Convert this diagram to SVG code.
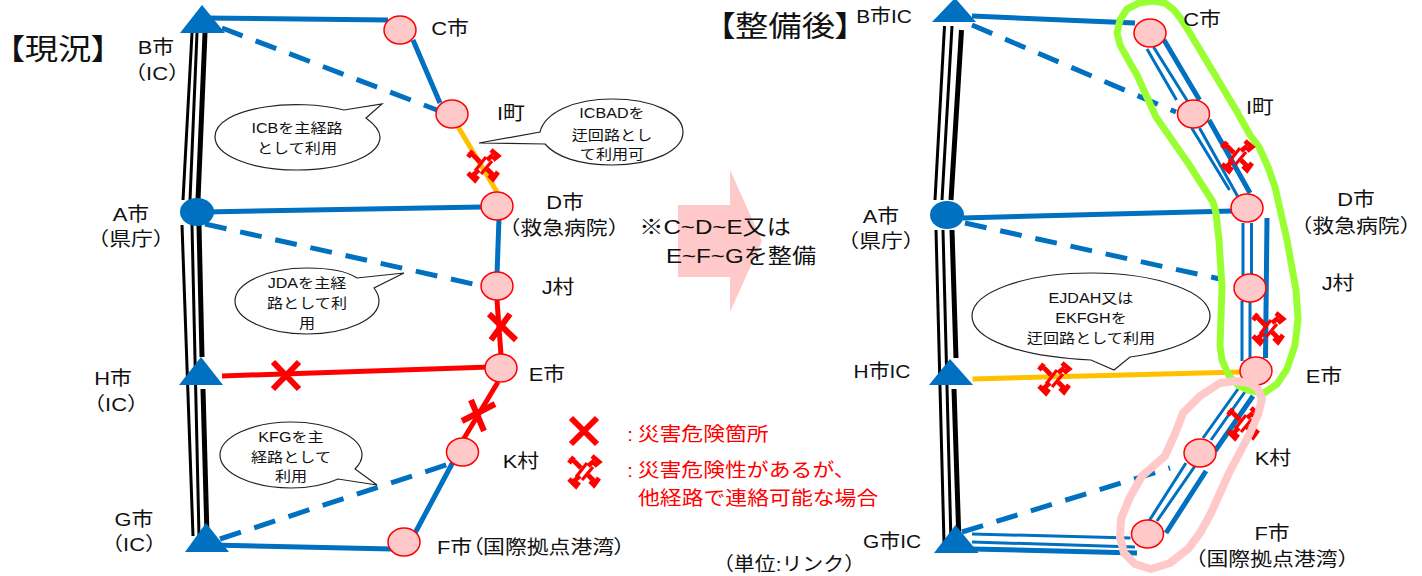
<svg xmlns="http://www.w3.org/2000/svg" width="1422" height="576" viewBox="0 0 1422 576">
<style>
text{font-family:"Liberation Sans","Noto Sans CJK JP",sans-serif;fill:#111;text-anchor:middle}
.l{font-size:19px}
.m{font-size:21px}
.s{font-size:14px}
.t{font-size:29px;font-feature-settings:"palt"}
.pa{font-feature-settings:"palt"}
.r{fill:#f00;font-size:19px;text-anchor:start}
.n{fill:#FFC9C9;stroke:#f00;stroke-width:1.5}
.b{fill:#0070C0}
.bk{stroke:#000;stroke-width:3;fill:none}
.bk2{stroke:#000;stroke-width:5;fill:none}
.w{stroke:#0070C0;stroke-width:5;fill:none}
.th{stroke:#0070C0;stroke-width:3;fill:none}
.tk{stroke:#0070C0;stroke-width:5;fill:none}
.d{stroke:#0070C0;stroke-width:5;fill:none;stroke-dasharray:22 14}
.rd{stroke:#f00;stroke-width:5;fill:none}
.x{stroke:#f00;stroke-width:6;fill:none}
.o{stroke:#FFC000;stroke-width:5;fill:none}
.c{fill:#fff;stroke:#222;stroke-width:1.2}
.g{fill:none;stroke:#99FF33;stroke-width:7;stroke-linejoin:round}
.p{fill:none;stroke:#FFC9C9;stroke-width:8;stroke-linejoin:round}
</style>
<defs>
<g id="hz" fill="none" stroke="#f00" stroke-width="4.8">
<path d="M-3,-3L-10,-10L-9,-10M-15,-8L-10,-14"/>
<path d="M4,-5L10,-10M8,-15L15,-9L10,-5"/>
<path d="M4,4L10,10M15,7L10,14L6,10"/>
<path d="M-4,5L-10,10M-15,8L-8,15L-5,11"/>
<path d="M-8,6L3,-8" stroke-width="3.2"/>
<path d="M-2,9L9,-4" stroke-width="3.2"/>
</g>
</defs>
<path d="M678,205H730V170L762,241L730,312V277H678Z" fill="#FFC9C9"/>
<g id="connectors">
<g id="trunk-left">
<path class="bk" d="M192,33L183,200M197,33L190,200M182,225L193,536M192,225L199,536"/>
<path class="bk2" d="M205,33L198,200M199,225L202,357M203,389L207,536"/>
</g>
<g id="trunk-right">
<path class="bk" d="M944.5,26L935,200M952,26L942,200M936,230L944,543M943,230L951,543"/>
<path class="bk2" d="M961.5,30L951,200M952,230L956,358M954,389L959,543"/>
</g>
<path class="w" d="M205,18L388,20"/>
<path class="d" d="M222,28L437,110"/>
<path class="w" d="M413,40L440,103"/>
<path class="o" d="M457,125L497,192"/>
<path class="w" d="M205,212L482,207"/>
<path class="d" d="M205,224L482,286"/>
<path class="w" d="M499,218L497,275"/>
<path class="rd" d="M497,300L501,355"/>
<path class="rd" d="M222,376L490,367"/>
<path class="rd" d="M498,382L463,440"/>
<path class="w" d="M453,462L414,535"/>
<path class="w" d="M210,545L392,549"/>
<path class="d" d="M220,539L452,463"/>
<path class="x" d="M489,314L516,340M510,314L491,340"/>
<path class="x" d="M273,362L299,389M299,362L273,389"/>
<path class="x" d="M462,421L495,404M471,400L484,431"/>
<path class="tk" d="M972,16L1135,23"/>
<path class="d" d="M972,25L1176,112"/>
<path class="th" d="M1147,49L1176.5,100M1153.5,47L1188,102M1191.7,128L1229.5,190M1199.5,128L1238,197"/>
<path class="tk" d="M1164,40L1199.5,100M1209,120L1250,193"/>
<path class="w" d="M962,218L1232,211"/>
<path class="d" d="M965,223L1220,279"/>
<path class="th" d="M1243,223V275M1251.5,223V275M1242,301V361M1250,301V361"/>
<path class="tk" d="M1267,218L1265.5,358"/>
<path class="o" d="M972.5,379L1241,372"/>
<path class="th" d="M1238,389L1203,438M1245.5,391L1211,440M1186,463L1149,521M1195,466L1157,521"/>
<path class="tk" d="M1253,396L1215,451M1206,471L1166,533"/>
<path class="d" d="M962,532L1170,468"/>
<path class="th" d="M972,534L1130.5,538M972,542L1135,547"/>
<path class="tk" d="M972,549L1137,553"/>
</g>
<path id="green-area" class="g" d="M1153,1L1165,3L1174,10L1181,19L1188,30L1206,60L1236,110L1250,135L1259,147L1268,167L1275,187L1287,240L1296,290L1298,319L1295,345L1287,369L1277,384L1264,393L1248,390L1238,385L1229,376L1222,360L1220,346L1222,287L1219,240L1216,213L1213,202L1188,163L1156,117L1146,95L1137,75L1130,63L1120,45L1117,33L1120,20L1127,9L1139,3Z"/>
<g id="node-B1"><path class="b" d="M202,5L180,33H225Z"/><text class="l" transform="translate(156,54) scale(1.15,1)">B市</text><text class="l" transform="translate(157,80) scale(1.15,1)">（IC）</text></g>
<g id="node-A1"><ellipse class="b" cx="197" cy="212" rx="17" ry="14"/><text class="l" transform="translate(131,221) scale(1.15,1)">A市</text><text class="l" transform="translate(131,246) scale(1.15,1)">（県庁）</text></g>
<g id="node-H1"><path class="b" d="M201,357L179,385H223Z"/><text class="l" transform="translate(113,385) scale(1.15,1)">H市</text><text class="l" transform="translate(116,411) scale(1.15,1)">（IC）</text></g>
<g id="node-G1"><path class="b" d="M206,523L185,552H229Z"/><text class="l" transform="translate(134,526) scale(1.15,1)">G市</text><text class="l" transform="translate(134,551) scale(1.15,1)">（IC）</text></g>
<g id="node-C1"><ellipse class="n" cx="400" cy="30" rx="16" ry="14"/><text class="l" transform="translate(450,35) scale(1.15,1)">C市</text></g>
<g id="node-I1"><ellipse class="n" cx="452" cy="114" rx="16" ry="14"/><text class="l" transform="translate(511,120) scale(1.15,1)">I町</text></g>
<g id="node-D1"><ellipse class="n" cx="497" cy="206" rx="16" ry="14"/><text class="l" transform="translate(565,209) scale(1.15,1)">D市</text><text class="l" transform="translate(564,235) scale(1.15,1)">（救急病院）</text></g>
<g id="node-J1"><ellipse class="n" cx="497" cy="286" rx="16" ry="14"/><text class="l" transform="translate(558,294) scale(1.15,1)">J村</text></g>
<g id="node-E1"><ellipse class="n" cx="501" cy="368" rx="16" ry="14"/><text class="l" transform="translate(547,381) scale(1.15,1)">E市</text></g>
<g id="node-K1"><ellipse class="n" cx="462.5" cy="452" rx="16" ry="14"/><text class="l" transform="translate(521,468) scale(1.15,1)">K村</text></g>
<g id="node-F1"><ellipse class="n" cx="404" cy="542" rx="16" ry="14"/><text class="l pa" transform="translate(531,554) scale(1.15,1)">F市（国際拠点港湾）</text></g>
<g id="node-B2"><path class="b" d="M955,-2L932,22H976Z"/><text class="l" transform="translate(884,23) scale(1.1,1)">B市IC</text></g>
<g id="node-A2"><ellipse class="b" cx="947" cy="215" rx="17" ry="14"/><text class="l" transform="translate(881,223) scale(1.15,1)">A市</text><text class="l" transform="translate(881,248) scale(1.15,1)">（県庁）</text></g>
<g id="node-H2"><path class="b" d="M950,359L929,385H973Z"/><text class="l" transform="translate(882,378) scale(1.1,1)">H市IC</text></g>
<g id="node-G2"><path class="b" d="M955.5,525L934,553H978.5Z"/><text class="l" transform="translate(892,548) scale(1.1,1)">G市IC</text></g>
<g id="node-C2"><ellipse class="n" cx="1150" cy="33" rx="16" ry="14"/><text class="l" transform="translate(1202,26) scale(1.15,1)">C市</text></g>
<g id="node-I2"><ellipse class="n" cx="1193.5" cy="114" rx="16" ry="14"/><text class="l" transform="translate(1260,114) scale(1.15,1)">I町</text></g>
<g id="node-D2"><ellipse class="n" cx="1247" cy="208" rx="16" ry="14"/><text class="l" transform="translate(1356,206) scale(1.15,1)">D市</text><text class="l" transform="translate(1356,233) scale(1.15,1)">（救急病院）</text></g>
<g id="node-J2"><ellipse class="n" cx="1250" cy="288" rx="16" ry="14"/><text class="l" transform="translate(1338,290) scale(1.15,1)">J村</text></g>
<g id="node-E2"><ellipse class="n" cx="1256" cy="371" rx="16" ry="14"/><text class="l" transform="translate(1324,383) scale(1.15,1)">E市</text></g>
<g id="node-K2"><ellipse class="n" cx="1200" cy="453" rx="16" ry="14"/><text class="l" transform="translate(1273,465) scale(1.15,1)">K村</text></g>
<g id="node-F2"><ellipse class="n" cx="1147.5" cy="534" rx="16" ry="14"/><text class="l" transform="translate(1272,540) scale(1.15,1)">F市</text><text class="l" transform="translate(1272,566) scale(1.15,1)">（国際拠点港湾）</text></g>
<use href="#hz" x="483" y="165"/>
<use href="#hz" x="1237" y="156"/>
<use href="#hz" x="1268" y="328"/>
<use href="#hz" x="1054" y="378"/>
<use href="#hz" x="1243" y="423"/>
<path id="pink-area" class="p" d="M1220,383L1235,381L1250,383L1258,389L1262,399L1258,415L1250,433L1229,473L1211,513L1200,533L1188,549L1170,563L1151,569L1135,564L1124,553L1120,537L1121,519L1130,497L1142,476L1165,456L1175,434L1183,413L1200,396Z"/>
<g id="callout-1"><path class="c" d="M344,110C320,104 290,103 265,107C235,112 215,122 215,137C215,155 250,170 297,170C345,170 380,155 380,137C380,130 374,124 366,118L382,104Z"/><text class="s" transform="translate(297,133) scale(1.15,1)">ICBを主経路</text><text class="s" transform="translate(297,153) scale(1.15,1)">として利用</text></g>
<g id="callout-2"><path class="c" d="M540,132C545,112 575,99 612,99C652,99 683,113 683,132C683,151 652,165 612,165C580,165 556,157 545,144L479,143Z"/><text class="s" transform="translate(612,118) scale(1.15,1)">ICBADを</text><text class="s" transform="translate(612,140) scale(1.15,1)">迂回路とし</text><text class="s" transform="translate(612,159) scale(1.15,1)">て利用可</text></g>
<g id="callout-3"><path class="c" d="M357,278C345,270 325,268 307,268C267,268 235,283 235,301C235,319 267,334 307,334C347,334 379,319 379,301C379,296 377,292 374,288L404,273Z"/><text class="s" transform="translate(307,288) scale(1.15,1)">JDAを主経</text><text class="s" transform="translate(307,308) scale(1.15,1)">路として利</text><text class="s" transform="translate(307,328) scale(1.15,1)">用</text></g>
<g id="callout-4"><path class="c" d="M338,479C325,485 308,488 291,488C252,488 220,473 220,455C220,437 252,422 291,422C330,422 362,437 362,455C362,460 359,465 355,469L377,485Z"/><text class="s" transform="translate(291,442) scale(1.15,1)">KFGを主</text><text class="s" transform="translate(291,462) scale(1.15,1)">経路として</text><text class="s" transform="translate(291,481) scale(1.15,1)">利用</text></g>
<g id="callout-5"><path class="c" d="M1091,360C1022,357 972,340 972,316C972,292 1025,273 1091,273C1157,273 1210,292 1210,316C1210,336 1175,351 1130,357L1114,370Z"/><text class="s" transform="translate(1091,303) scale(1.15,1)">EJDAH又は</text><text class="s" transform="translate(1091,323) scale(1.15,1)">EKFGHを</text><text class="s" transform="translate(1091,343) scale(1.15,1)">迂回路として利用</text></g>
<g id="titles">
<text class="t" transform="translate(58,60) scale(1.15,1)">【現況】</text>
<text class="t" transform="translate(785,37) scale(1.15,1)">【整備後】</text>
<text class="m" transform="translate(715,234) scale(1.15,1)">※C~D~E又は</text>
<text class="m" transform="translate(741,263) scale(1.15,1)">E~F~Gを整備</text>
<text class="l" transform="translate(789,571) scale(1.1,1)">（単位:リンク）</text>
</g>
<g id="legend">
<path class="x" d="M571,418L597,444M597,418L571,444"/>
<use href="#hz" x="584" y="471"/>
<text class="r" transform="translate(627,441) scale(1.15,1)">:<tspan dx="4">災害危険箇所</tspan></text>
<text class="r" transform="translate(627,477) scale(1.15,1)">:<tspan dx="4">災害危険性があるが、</tspan></text>
<text class="r" transform="translate(638,505) scale(1.15,1)">他経路で連絡可能な場合</text>
</g>
</svg>
